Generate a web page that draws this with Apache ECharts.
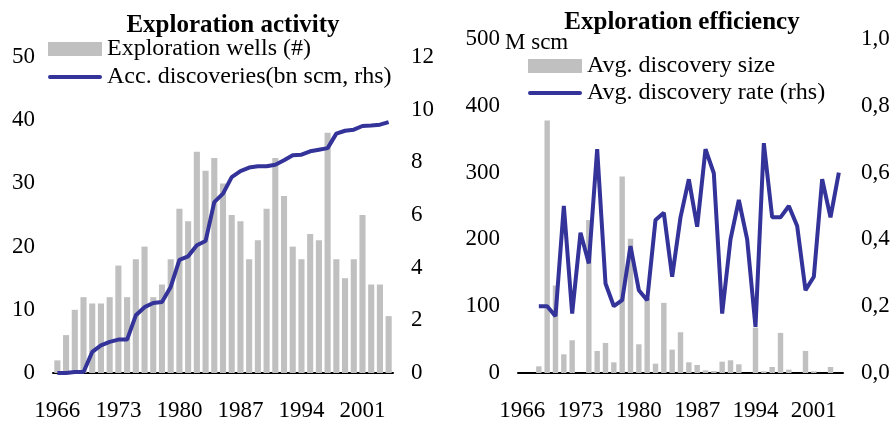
<!DOCTYPE html>
<html>
<head>
<meta charset="utf-8">
<script src="https://cdn.jsdelivr.net/npm/echarts@6/dist/echarts.min.js"></script>
<style>
  html, body { margin: 0; padding: 0; background: #fff; }
  #chart { width: 896px; height: 424px; }
</style>
</head>
<body>
<div id="chart"></div>
<script>
// years 1966 - 2004
const years = []
for (let y = 1966; y <= 2004; y++) years.push(String(y))

// left panel: exploration activity
const explorationWells = [2, 6, 10, 12, 11, 11, 12, 17, 12, 18, 20, 12, 14, 18, 26, 24, 35, 32, 34, 30,
  25, 24, 18, 21, 26, 34, 28, 20, 18, 22, 21, 38, 18, 15, 18, 25, 14, 14, 9]
const accDiscoveries = [0, 0, 0.04, 0.04, 0.8, 1.05, 1.18, 1.27, 1.27, 2.19, 2.5, 2.66, 2.7, 3.27, 4.3, 4.43,
  4.85, 5.01, 6.49, 6.81, 7.44, 7.67, 7.8, 7.85, 7.85, 7.91, 8.08, 8.27, 8.29, 8.42, 8.48, 8.54,
  9.09, 9.2, 9.24, 9.38, 9.4, 9.43, 9.53]

// right panel: exploration efficiency
const avgDiscoverySize = [null, null, 10, 378, 131, 28, 49, 0, 229, 33, 45, 16, 294, 201, 43, 112, 14, 105,
  35, 61, 16, 12, 4, 3, 17, 19, 13, 0, 68, 2.5, 9, 60, 5, 0, 33, 2.5, 0, 9, 0]
const avgDiscoveryRate = [null, null, 0.2, 0.2, 0.17, 0.5, 0.178, 0.42, 0.328, 0.67, 0.268, 0.2, 0.218, 0.38,
  0.248, 0.218, 0.458, 0.48, 0.288, 0.466, 0.58, 0.438, 0.67, 0.598, 0.178, 0.4, 0.518, 0.4, 0.138,
  0.688, 0.466, 0.466, 0.5, 0.44, 0.248, 0.288, 0.58, 0.466, 0.6]

const font = 'Liberation Serif'
const barColor = '#c0c0c0'
const lineColor = '#333399'
// thick line icon for the legend (tiny points keep the box 54x14)
const lineIcon = 'path://M0,0L0.01,0Z M2,5L52,5A2,2 0 0 1 52,9L2,9A2,2 0 0 1 2,5Z M0,14L0.01,14Z'

const chart = echarts.init(document.getElementById('chart'))

const xAxisBase = {
  type: 'category',
  data: years,
  axisTick: { show: false },
  axisLine: { lineStyle: { color: '#000', width: 2 } },
  axisLabel: { interval: 6, color: '#000', fontFamily: font, fontSize: 23, margin: 26 }
}
const yAxisBase = {
  type: 'value',
  axisLine: { show: false },
  axisTick: { show: false },
  splitLine: { show: false },
  axisLabel: { color: '#000', fontFamily: font, fontSize: 23, margin: 18 }
}

chart.setOption({
  animation: false,
  textStyle: { fontFamily: font },
  title: [
    { text: 'Exploration activity', left: 228, top: 8, textAlign: 'center',
      textStyle: { fontFamily: font, fontSize: 25, fontWeight: 'bold', color: '#000' } },
    { text: 'Exploration efficiency', left: 677, top: 5, textAlign: 'center',
      textStyle: { fontFamily: font, fontSize: 25, fontWeight: 'bold', color: '#000' } }
  ],
  legend: [
    {
      data: [
        { name: 'Exploration wells (#)', icon: 'rect' },
        { name: 'Acc. discoveries(bn scm, rhs)', icon: lineIcon }
      ],
      orient: 'vertical', left: 43, top: 32, itemWidth: 54, itemHeight: 14, itemGap: 4,
      textStyle: { fontFamily: font, fontSize: 24, color: '#000' }
    },
    {
      data: [
        { name: 'Avg. discovery size', icon: 'rect' },
        { name: 'Avg. discovery rate (rhs)', icon: lineIcon }
      ],
      orient: 'vertical', left: 523, top: 49, itemWidth: 54, itemHeight: 14, itemGap: 3,
      textStyle: { fontFamily: font, fontSize: 24, color: '#000' }
    }
  ],
  graphic: [
    { type: 'text', left: 505, top: 31, style: { text: 'M scm', fontFamily: font, fontSize: 23, fill: '#000' } }
  ],
  grid: [
    { left: 53, right: 503, top: 57, bottom: 51 },
    { left: 518, right: 53, top: 39, bottom: 51 }
  ],
  xAxis: [
    Object.assign({}, xAxisBase, { gridIndex: 0 }),
    Object.assign({}, xAxisBase, { gridIndex: 1 })
  ],
  yAxis: [
    Object.assign({}, yAxisBase, { gridIndex: 0, min: 0, max: 50, interval: 10 }),
    Object.assign({}, yAxisBase, { gridIndex: 0, min: 0, max: 12, interval: 2, position: 'right' }),
    Object.assign({}, yAxisBase, { gridIndex: 1, min: 0, max: 500, interval: 100 }),
    Object.assign({}, yAxisBase, { gridIndex: 1, min: 0, max: 1, interval: 0.2, position: 'right',
      axisLabel: Object.assign({}, yAxisBase.axisLabel, {
        formatter: function (v) { return v.toFixed(1).replace('.', ',') }
      }) })
  ],
  series: [
    {
      name: 'Exploration wells (#)', type: 'bar', xAxisIndex: 0, yAxisIndex: 0,
      data: explorationWells, barCategoryGap: '30%', itemStyle: { color: barColor }
    },
    {
      name: 'Acc. discoveries(bn scm, rhs)', type: 'line', xAxisIndex: 0, yAxisIndex: 1,
      data: accDiscoveries, symbol: 'none', lineStyle: { color: lineColor, width: 4 },
      itemStyle: { color: lineColor }
    },
    {
      name: 'Avg. discovery size', type: 'bar', xAxisIndex: 1, yAxisIndex: 2,
      data: avgDiscoverySize, barCategoryGap: '35%', itemStyle: { color: barColor }
    },
    {
      name: 'Avg. discovery rate (rhs)', type: 'line', xAxisIndex: 1, yAxisIndex: 3,
      data: avgDiscoveryRate, symbol: 'none', lineStyle: { color: lineColor, width: 4 },
      itemStyle: { color: lineColor }
    }
  ]
})
</script>
</body>
</html>
